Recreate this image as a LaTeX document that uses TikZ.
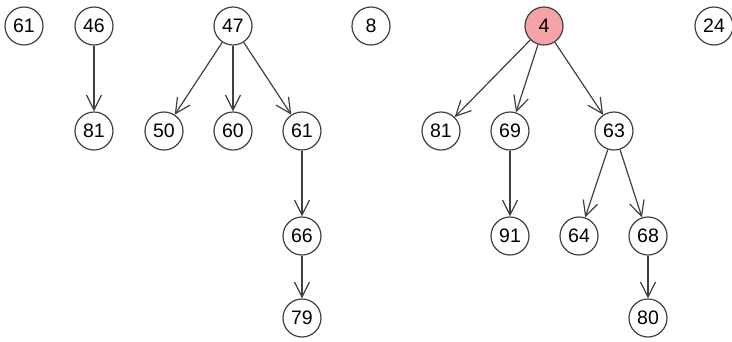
\documentclass[tikz,border=0pt]{standalone}
\usepackage{fontspec}
\setmainfont{Liberation Sans}
\usetikzlibrary{arrows.meta}
\definecolor{edgegray}{HTML}{404040}
\definecolor{rootred}{HTML}{F4A3A8}
\begin{document}
\begin{tikzpicture}[x=1pt,y=-1pt,
  vtx/.style={circle,draw=edgegray,line width=1.2pt,minimum size=38pt,inner sep=0pt,fill=white,font=\fontsize{19.5}{19.5}\selectfont},
  root/.style={vtx,fill=rootred},
  link/.style={draw=edgegray,line width=1.2pt,-{Straight Barb[length=15pt,width=15pt,line width=1.2pt]}}]
\useasboundingbox (0,0) rectangle (732,341);
% forest of trees
\node[vtx] (a61) at (24,26) {61};
\node[vtx] (a46) at (94,26) {46};
\node[vtx] (a81) at (94,131) {81};
\node[vtx] (a47) at (233,26) {47};
\node[vtx] (a50) at (164,131) {50};
\node[vtx] (a60) at (233,131) {60};
\node[vtx] (b61) at (302,131) {61};
\node[vtx] (a66) at (302,236) {66};
\node[vtx] (a79) at (302,318) {79};
\node[vtx] (a8) at (371,26) {8};
\node[root] (a4) at (544,26) {4};
\node[vtx] (b81) at (441,131) {81};
\node[vtx] (a69) at (510,131) {69};
\node[vtx] (a63) at (614,131) {63};
\node[vtx] (a91) at (510,236) {91};
\node[vtx] (a64) at (579,236) {64};
\node[vtx] (a68) at (648,236) {68};
\node[vtx] (a80) at (648,318) {80};
\node[vtx] (a24) at (714,26) {24};
% edges
\draw[link] (a46) -- (a81);
\draw[link] (a47) -- (a50);
\draw[link] (a47) -- (a60);
\draw[link] (a47) -- (b61);
\draw[link] (b61) -- (a66);
\draw[link] (a66) -- (a79);
\draw[link] (a4) -- (b81);
\draw[link] (a4) -- (a69);
\draw[link] (a4) -- (a63);
\draw[link] (a69) -- (a91);
\draw[link] (a63) -- (a64);
\draw[link] (a63) -- (a68);
\draw[link] (a68) -- (a80);
\end{tikzpicture}
\end{document}
